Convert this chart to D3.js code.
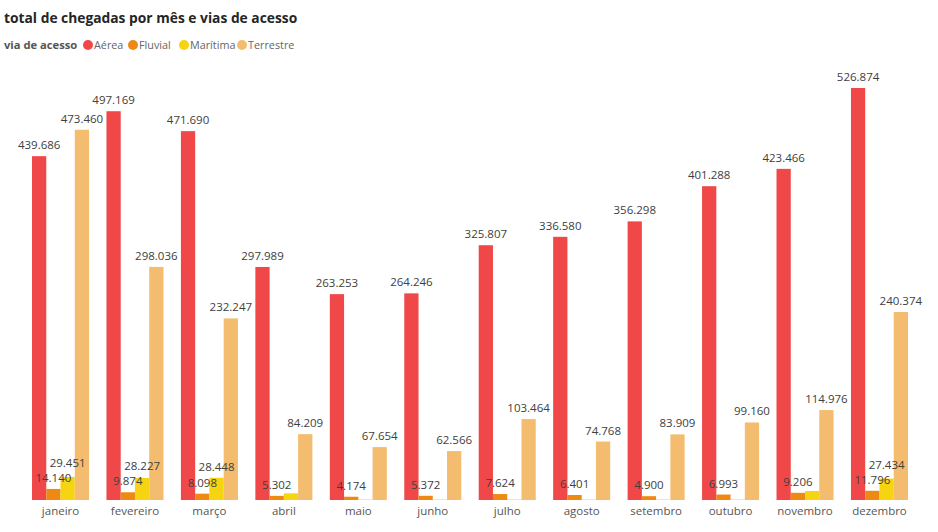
<!DOCTYPE html>
<html>
<head>
<meta charset="utf-8">
<script src="https://cdn.jsdelivr.net/npm/d3@7"></script>
<style>
  body { margin: 0; background: #fff; }
  svg { display: block; font-family: "Open Sans", "Noto Sans", sans-serif; }
</style>
</head>
<body>
<svg id="chart" width="938" height="532"></svg>
<script>
const months = ["janeiro","fevereiro","março","abril","maio","junho","julho","agosto","setembro","outubro","novembro","dezembro"];
const seriesNames = ["Aérea","Fluvial","Marítima","Terrestre"];
const aerea     = [439686, 497169, 471690, 297989, 263253, 264246, 325807, 336580, 356298, 401288, 423466, 526874];
const fluvial   = [14140, 9874, 8098, 5302, 4174, 5372, 7624, 6401, 4900, 6993, 9206, 11796];
const maritima  = [29451, 28227, 28448, 8500, 600, 600, 600, 600, 600, 600, 11500, 27434];
const terrestre = [473460, 298036, 232247, 84209, 67654, 62566, 103464, 74768, 83909, 99160, 114976, 240374];
// whether the data label is displayed (Power BI hid the overlapping ones)
const maritimaLabelShown = [true, true, true, false, false, false, false, false, false, false, false, true];
const colors = ["#F04848", "#EE8A14", "#F7D411", "#F3BC6E"];

const values = [aerea, fluvial, maritima, terrestre];
const svg = d3.select("#chart");

const x0 = d3.scaleBand().domain(months).range([23.3, 916.7]).paddingInner(0.234).paddingOuter(0.117);
const x1 = d3.scaleBand().domain(seriesNames).range([0, x0.bandwidth()]).padding(0);
const y = d3.scaleLinear().domain([0, 526874]).range([500, 88]);

const fmt = v => d3.format(",")(v).replace(/,/g, ".");

// title
svg.append("text").attr("x", 4).attr("y", 23)
  .attr("font-size", 13.8).attr("font-weight", 700).attr("fill", "#252525")
  .text("total de chegadas por mês e vias de acesso");

// legend
svg.append("text").attr("x", 4).attr("y", 49)
  .attr("font-size", 11.2).attr("font-weight", 700).attr("fill", "#555")
  .text("via de acesso");
const legX = [88, 133, 184, 242];
seriesNames.forEach((s, i) => {
  svg.append("circle").attr("cx", legX[i]).attr("cy", 45).attr("r", 5).attr("fill", colors[i]);
  svg.append("text").attr("x", legX[i] + 6).attr("y", 49).attr("font-size", 10.8).attr("fill", "#666").text(s);
});

// bars
const groups = svg.append("g").selectAll("g").data(months).join("g")
  .attr("transform", d => `translate(${x0(d)},0)`);

seriesNames.forEach((s, si) => {
  groups.append("rect")
    .attr("x", x1(s))
    .attr("width", x1.bandwidth())
    .attr("y", (d, mi) => y(values[si][mi]))
    .attr("height", (d, mi) => y(0) - y(values[si][mi]))
    .attr("fill", colors[si]);
});

// data labels
function labelY(si, mi) {
  let ly = y(values[si][mi]) - 7;
  if (si === 2) {
    const fy = y(values[1][mi]) - 7;
    if (ly > fy - 15) ly = fy - 15;
  }
  return ly;
}
seriesNames.forEach((s, si) => {
  groups.filter((d, mi) => si !== 2 || maritimaLabelShown[mi])
    .append("text")
    .attr("x", x1(s) + x1.bandwidth() / 2)
    .attr("y", d => labelY(si, months.indexOf(d)))
    .attr("text-anchor", "middle")
    .attr("font-size", 11.5)
    .attr("fill", "#404040")
    .text(d => fmt(values[si][months.indexOf(d)]));
});

// x axis
const xAxis = svg.append("g").attr("transform", "translate(0,500)")
  .call(d3.axisBottom(x0).tickSize(0).tickPadding(7));
xAxis.select(".domain").remove();
xAxis.selectAll("text").attr("font-size", 11.5).attr("fill", "#555")
  .attr("font-family", "'Open Sans', 'Noto Sans', sans-serif");
</script>
</body>
</html>
